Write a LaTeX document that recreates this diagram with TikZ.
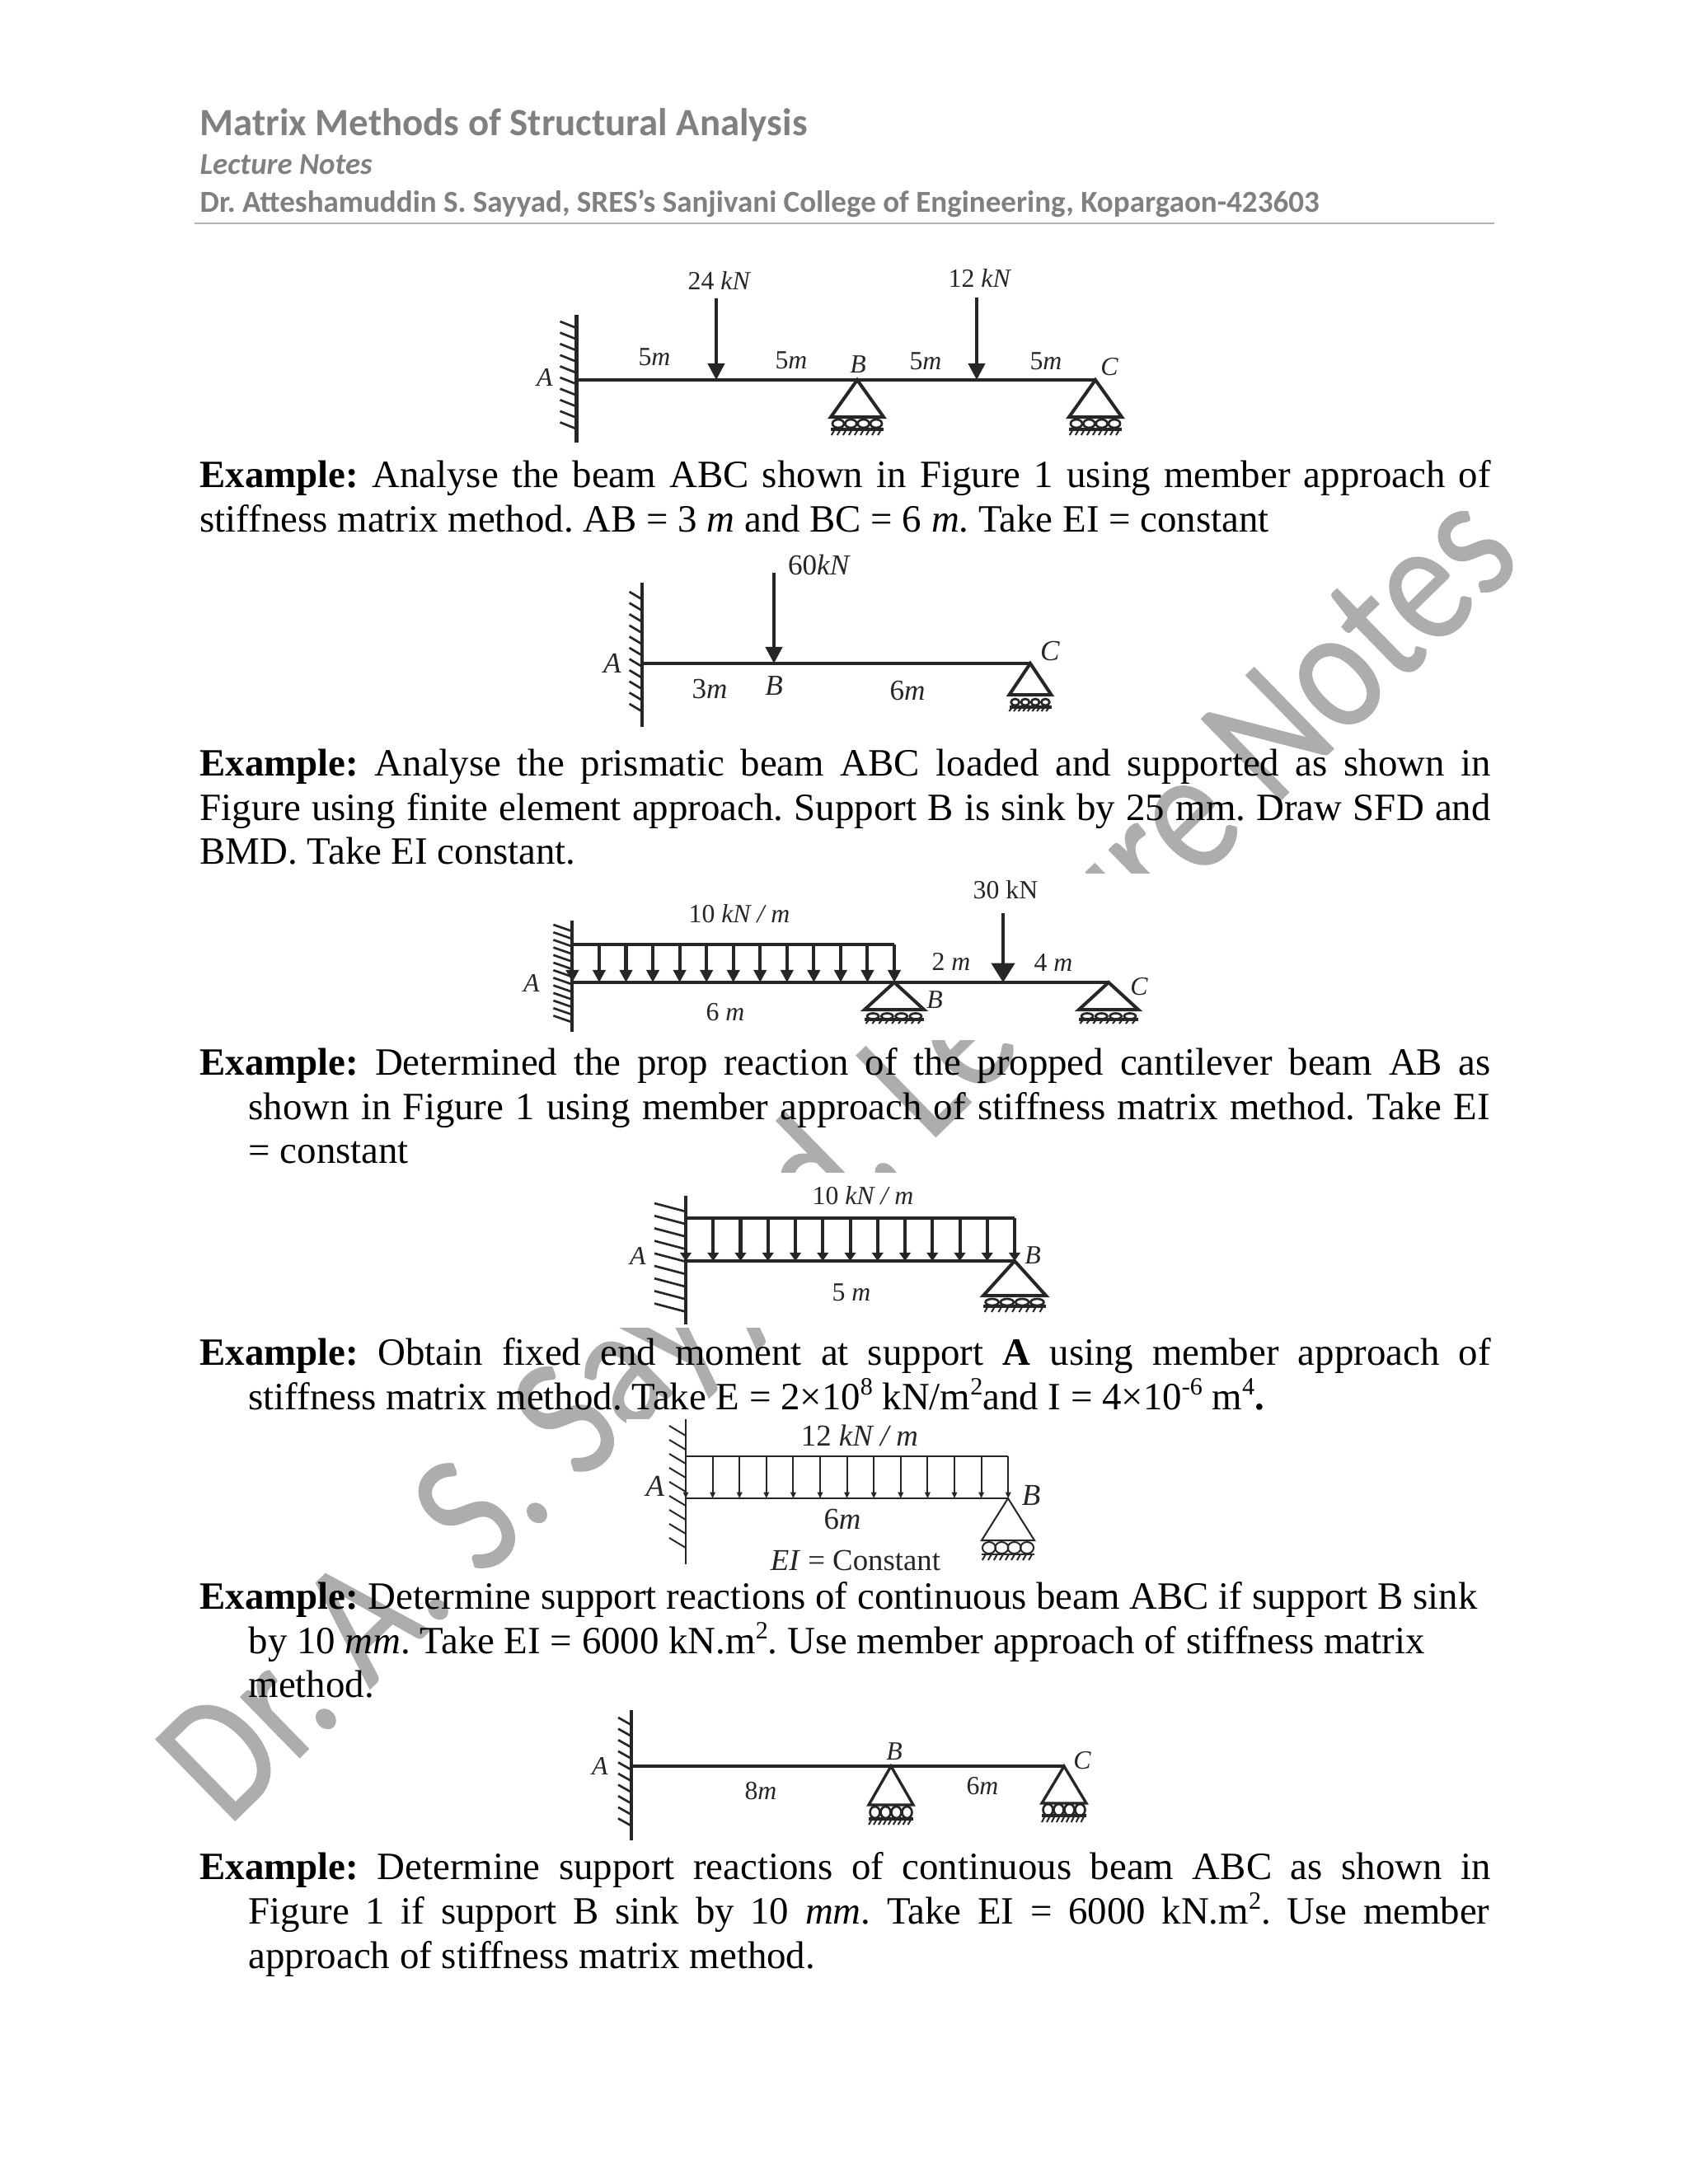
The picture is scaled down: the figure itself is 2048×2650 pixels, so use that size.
\documentclass[tikz,border=0pt]{standalone}
\usepackage{fontspec}
\usetikzlibrary{arrows.meta}
\setmainfont{Liberation Serif}
\newfontfamily\headfont{Carlito}
\newfontfamily\markfont[FakeBold=0.6]{Carlito}
\frenchspacing
\definecolor{headgray}{gray}{0.5}
\definecolor{markgray}{gray}{0.68}
\definecolor{figink}{gray}{0.15}

\tikzset{
  lbl/.style={text=figink,font=\fontsize{9.5}{11}\selectfont,inner sep=0pt},
  txtline/.style={anchor=base west,inner sep=0pt},
  headline/.style={anchor=base west,inner sep=0pt,text=headgray},
  beamline/.style={draw=figink},
  hatchline/.style={draw=figink,line width=0.8pt},
  loadtip/.style 2 args={-{Triangle[length=#1,width=#2]},draw=figink},
  pagemask/.style={fill=white,draw=none}
}

% justified line of given width
\newcommand{\jline}[2]{\hbox to #1{#2}}
% small raised text
\newcommand{\upnum}[1]{\raisebox{5.5pt}{\fontsize{9}{9}\selectfont #1}}

% wall at x, hatches from y0 by step to y1, each with offset (dx,dy)
\newcommand{\wallhatch}[6]{%
  \pgfmathsetmacro{\ysec}{#2+#3}
  \foreach \yy in {#2,\ysec,...,#4}
    \draw[hatchline] (#1,\yy) -- ++(#5,#6);
}

% roller support: apex x,y / base y / half width / roller y / rail y / tick end y / rx / ry
\newcommand{\rollersupport}[9]{%
  \draw[figink,line join=miter] (#1-#4,#3) -- (#1,#2) -- (#1+#4,#3) -- cycle;
  \foreach \k in {-1.5,-0.5,0.5,1.5}
    \draw[hatchline] (#1+\k*#4*0.48,#5) ellipse ({#8} and {#9});
  \draw[figink] (#1-#4,#6) -- (#1+#4,#6);
  \foreach \k in {-0.85,-0.63,...,1}
    \draw[figink,line width=0.6pt] (#1+\k*#4,#6) -- ++(-4,#7-#6);
}

\begin{document}
\begin{tikzpicture}[x=0.29883pt,y=-0.29883pt]
  \useasboundingbox (0,0) rectangle (2048,2650);

  % watermark, behind everything
  \node[rotate=44.3,anchor=base west,text=markgray,inner sep=0pt,font=\markfont\fontsize{53.5}{53.5}\selectfont] (mark) at (276,2218) {\scalebox{1}[1.2]{Dr. A. S. Sayyad, Lecture Notes}};
  \fill[pagemask] (620,1060) rectangle (1520,1262);
  \fill[pagemask] (720,1423) rectangle (1320,1611);
  \fill[pagemask] (760,1722) rectangle (1300,1925);

  % page header
  \node[headline,font=\headfont\bfseries\fontsize{14}{16}\selectfont] (title) at (242,164) {Matrix Methods of Structural Analysis};
  \node[headline,font=\headfont\bfseries\itshape\fontsize{11}{13}\selectfont] (sub) at (242,211) {Lecture Notes};
  \node[headline,font=\headfont\bfseries\fontsize{11.07}{13}\selectfont] (who) at (242,257) {Dr. Atteshamuddin S. Sayyad, SRES’s Sanjivani College of Engineering, Kopargaon-423603};
  \coordinate (ruleL) at (236,271);
  \coordinate (ruleR) at (1813,271);
  \draw[black!30,line width=0.6pt] (ruleL) -- (ruleR);

  % body text
  \begin{scope}[every node/.append style={font=\fontsize{14}{16}\selectfont}]
    \node[txtline] (t1) at (242,591.5) {\jline{468pt}{\textbf{Example:} Analyse the beam ABC shown in Figure 1 using member approach of}};
    \node[txtline] (t2) at (242,645.5) {stiffness matrix method. AB = 3 \textit{m} and BC = 6 \textit{m}. Take EI = constant};
    \node[txtline] (t3) at (242,941.5) {\jline{468pt}{\textbf{Example:} Analyse the prismatic beam ABC loaded and supported as shown in}};
    \node[txtline] (t4) at (242,995.5) {\jline{468pt}{Figure using finite element approach. Support B is sink by 25 mm. Draw SFD and}};
    \node[txtline] (t5) at (242,1048.5) {BMD. Take EI constant.};
    \node[txtline] (t6) at (242,1304.5) {\jline{468pt}{\textbf{Example:} Determined the prop reaction of the propped cantilever beam AB as}};
    \node[txtline] (t7) at (301,1358.5) {\jline{450pt}{shown in Figure 1 using member approach of stiffness matrix method. Take EI}};
    \node[txtline] (t8) at (301,1411.5) {= constant};
    \node[txtline] (t9) at (242,1656.5) {\jline{468pt}{\textbf{Example:} Obtain fixed end moment at support \textbf{A} using member approach of}};
    \node[txtline] (t10) at (301,1710.5) {stiffness matrix method. Take E = 2×10\upnum{8} kN/m\upnum{2}and I = 4×10\upnum{-6} m\upnum{4}\textbf{.}};
    \node[txtline] (t11) at (242,1952.5) {\textbf{Example:} Determine support reactions of continuous beam ABC if support B sink};
    \node[txtline] (t12) at (301,2006.5) {by 10 \textit{mm}. Take EI = 6000 kN.m\upnum{2}. Use member approach of stiffness matrix};
    \node[txtline] (t13) at (301,2059.5) {method.};
    \node[txtline] (t14) at (242,2280.5) {\jline{468pt}{\textbf{Example:} Determine support reactions of continuous beam ABC as shown in}};
    \node[txtline] (t15) at (301,2334.5) {\jline{450pt}{Figure 1 if support B sink by 10 \textit{mm}. Take EI = 6000 kN.m\upnum{2}. Use member}};
    \node[txtline] (t16) at (301,2388.5) {approach of stiffness matrix method.};
  \end{scope}

  % first beam
  \begin{scope}[line width=1.2pt]
    \coordinate (A1) at (699.5,461);
    \coordinate (C1) at (1329,461);
    \coordinate (W1a) at (699.5,382);
    \coordinate (W1b) at (699.5,537);
    \coordinate (P1a) at (869,362);
    \coordinate (P1b) at (869,461);
    \coordinate (P1c) at (1185,361);
    \coordinate (P1d) at (1185,461);
    \draw[beamline] (W1a) -- (W1b);
    \draw[beamline] (A1) -- (C1);
    \wallhatch{699.5}{398}{13.6}{522}{-20}{-8}
    \draw[loadtip={6pt}{6pt}] (P1a) -- (P1b);
    \draw[loadtip={6pt}{6pt}] (P1c) -- (P1d);
    \rollersupport{1040}{461}{506}{32}{514}{521}{528}{7}{5}
    \rollersupport{1329}{461}{506}{32}{514}{521}{528}{7}{5}
    \node[lbl] (f1) at (873,340) {24 \textit{kN}};
    \node[lbl] (f2) at (1189,337) {12 \textit{kN}};
    \node[lbl] (l1) at (794,433) {5\textit{m}};
    \node[lbl] (l2) at (960,437) {5\textit{m}};
    \node[lbl] (l3) at (1123,438) {5\textit{m}};
    \node[lbl] (l4) at (1269,438) {5\textit{m}};
    \node[lbl] (nA1) at (661,458) {\textit{A}};
    \node[lbl] (nB1) at (1041,442) {\textit{B}};
    \node[lbl] (nC1) at (1346,445) {\textit{C}};
  \end{scope}

  % second beam
  \begin{scope}[line width=1.2pt,lbl/.append style={font=\fontsize{10.5}{12}\selectfont}]
    \coordinate (A2) at (778.6,805);
    \coordinate (C2) at (1250,805);
    \coordinate (W2a) at (778.6,707);
    \coordinate (W2b) at (778.6,882);
    \coordinate (P2a) at (939,695);
    \coordinate (P2b) at (939,805);
    \draw[beamline] (W2a) -- (W2b);
    \draw[beamline] (A2) -- (C2);
    \wallhatch{778.6}{727}{13.6}{865}{-15}{-9}
    \draw[loadtip={6pt}{6pt}] (P2a) -- (P2b);
    \rollersupport{1250}{805}{843}{25.5}{852}{858}{863}{5}{4}
    \node[lbl] (f3) at (994,685) {60\textit{kN}};
    \node[lbl] (l5) at (861,836) {3\textit{m}};
    \node[lbl] (l6) at (1101,838) {6\textit{m}};
    \node[lbl] (nA2) at (743,805) {\textit{A}};
    \node[lbl] (nB2) at (939,832) {\textit{B}};
    \node[lbl] (nC2) at (1274,790) {\textit{C}};
  \end{scope}

  % third beam
  \begin{scope}[line width=1.2pt]
    \coordinate (A3) at (694.4,1192);
    \coordinate (C3) at (1345,1192);
    \coordinate (W3a) at (694.4,1117);
    \coordinate (W3b) at (694.4,1252);
    \coordinate (U3a) at (694.4,1146);
    \coordinate (U3b) at (1085,1146);
    \coordinate (P3a) at (1217,1108);
    \coordinate (P3b) at (1217,1192);
    \draw[beamline] (W3a) -- (W3b);
    \draw[beamline] (A3) -- (C3);
    \draw[beamline] (U3a) -- (U3b);
    \wallhatch{694.4}{1130}{9.2}{1242}{-23}{-8}
    \foreach \i in {0,...,12}
      \draw[loadtip={4.5pt}{4.5pt}] (694.4+\i*32.55,1146) -- (694.4+\i*32.55,1192);
    \draw[loadtip={7pt}{8.4pt}] (P3a) -- (P3b);
    \rollersupport{1085}{1192}{1225}{36}{1233}{1237}{1242}{7}{3.5}
    \rollersupport{1345}{1192}{1225}{36}{1233}{1237}{1242}{7}{3.5}
    \node[lbl] (f4) at (1220,1080) {30 kN};
    \node[lbl] (f5) at (897,1109) {10 \textit{kN / m}};
    \node[lbl] (l7) at (1154,1167) {2 \textit{m}};
    \node[lbl] (l8) at (1278,1168) {4 \textit{m}};
    \node[lbl] (l9) at (880,1228) {6 \textit{m}};
    \node[lbl] (nA3) at (645,1193) {\textit{A}};
    \node[lbl] (nB3) at (1134,1213) {\textit{B}};
    \node[lbl] (nC3) at (1382,1197) {\textit{C}};
  \end{scope}

  % fourth beam
  \begin{scope}[line width=1.2pt]
    \coordinate (A4) at (832,1530);
    \coordinate (B4) at (1231,1530);
    \coordinate (W4a) at (832,1451);
    \coordinate (W4b) at (832,1607);
    \coordinate (U4a) at (832,1478);
    \coordinate (U4b) at (1231,1478);
    \draw[beamline] (W4a) -- (W4b);
    \draw[beamline] (A4) -- (B4);
    \draw[beamline] (U4a) -- (U4b);
    \wallhatch{832}{1470}{15.2}{1594}{-38}{-10}
    \foreach \i in {0,...,12}
      \draw[loadtip={3pt}{4pt}] (832+\i*33.25,1478) -- (832+\i*33.25,1530);
    \rollersupport{1231}{1530}{1572}{38}{1580}{1585}{1592}{8}{4}
    \node[lbl] (f6) at (1047,1451) {10 \textit{kN / m}};
    \node[lbl] (l10) at (1033,1568) {5 \textit{m}};
    \node[lbl] (nA4) at (774,1524) {\textit{A}};
    \node[lbl] (nB4) at (1253,1523) {\textit{B}};
  \end{scope}

  % fifth beam
  \begin{scope}[line width=0.6pt,hatchline/.append style={line width=0.6pt}]
    \coordinate (A5) at (832,1818);
    \coordinate (B5) at (1223,1818);
    \coordinate (W5a) at (832,1722);
    \coordinate (W5b) at (832,1898);
    \coordinate (U5a) at (832,1767);
    \coordinate (U5b) at (1223,1767);
    \draw[beamline] (W5a) -- (W5b);
    \draw[beamline] (A5) -- (B5);
    \draw[beamline] (U5a) -- (U5b);
    \wallhatch{832}{1742}{17}{1880}{-20}{-12}
    \foreach \i in {0,...,12}
      \draw[loadtip={2.2pt}{1.9pt}] (832+\i*32.6,1767) -- (832+\i*32.6,1818);
    \rollersupport{1223}{1818}{1869}{32}{1878}{1886}{1893}{8}{7}
    \node[lbl,font=\fontsize{11}{13}\selectfont] (f7) at (1043,1742) {12 \textit{kN / m}};
    \node[lbl,font=\fontsize{11}{13}\selectfont] (l11) at (1022,1843) {6\textit{m}};
    \node[lbl,font=\fontsize{11}{13}\selectfont] (ei) at (1038,1893) {\textit{EI} = Constant};
    \node[lbl,font=\fontsize{11}{13}\selectfont] (nA5) at (795,1803) {\textit{A}};
    \node[lbl,font=\fontsize{11}{13}\selectfont] (nB5) at (1251,1814) {\textit{B}};
  \end{scope}

  % sixth beam
  \begin{scope}[line width=1pt]
    \coordinate (A6) at (766,2143);
    \coordinate (C6) at (1291,2143);
    \coordinate (W6a) at (766,2075);
    \coordinate (W6b) at (766,2233);
    \draw[beamline] (W6a) -- (W6b);
    \draw[beamline] (A6) -- (C6);
    \wallhatch{766}{2093}{13.6}{2216}{-16}{-9}
    \rollersupport{1081}{2143}{2190}{27}{2199}{2207}{2214}{6}{7}
    \rollersupport{1291}{2143}{2188}{27}{2196}{2203}{2211}{6}{7}
    \node[lbl] (l12) at (923,2173) {8\textit{m}};
    \node[lbl] (l13) at (1192,2167) {6\textit{m}};
    \node[lbl] (nA6) at (728,2143) {\textit{A}};
    \node[lbl] (nB6) at (1085,2125) {\textit{B}};
    \node[lbl] (nC6) at (1313,2136) {\textit{C}};
  \end{scope}
\end{tikzpicture}
\end{document}
